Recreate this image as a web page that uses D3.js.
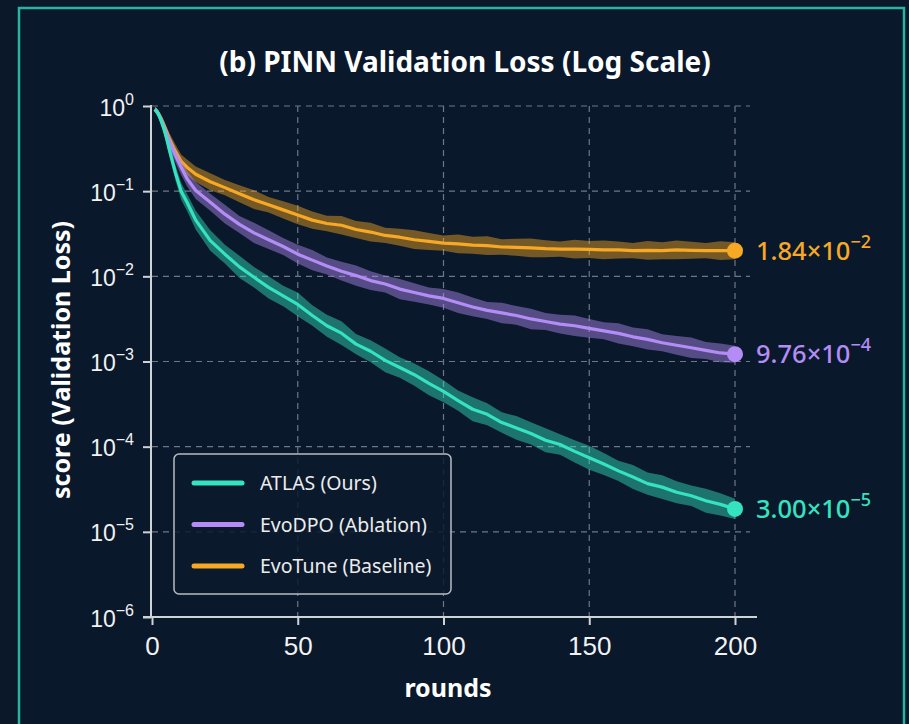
<!DOCTYPE html>
<html>
<head>
<meta charset="utf-8">
<script src="https://cdn.jsdelivr.net/npm/d3@7"></script>
<style>
  html, body { margin: 0; padding: 0; background: #0a1829; }
  svg { display: block; font-family: "Noto Sans", "Open Sans", sans-serif; }
</style>
</head>
<body>
<svg id="chart" width="909" height="724"></svg>
<script>
var rounds = [1, 2, 3, 4, 5, 6, 8, 10, 12, 15,
  20, 25, 30, 35, 40, 45, 50, 55, 60, 65, 70, 75, 80, 85, 90, 95, 100,
  105, 110, 115, 120, 125, 130, 135, 140, 145, 150, 155, 160, 165, 170,
  175, 180, 185, 190, 195, 200];

var atlasLoss = [0.912, 0.832, 0.692, 0.550, 0.417, 0.302, 0.166, 0.100, 0.0741, 0.0457,
  0.0263, 0.0182, 0.0129, 0.00977, 0.00741, 0.00589, 0.00468, 0.00347, 0.00263, 0.00215,
  0.00160, 0.00132, 0.00103, 0.000851, 0.000700, 0.000555, 0.000447,
  0.000347, 0.000275, 0.000240, 0.000192, 0.000166, 0.000143, 0.000119, 0.000106, 0.0000880,
  0.0000741, 0.0000625, 0.0000520, 0.0000440, 0.0000368, 0.0000335, 0.0000292, 0.0000265,
  0.0000232, 0.0000210, 0.0000186];

var evodpoLoss = [0.912, 0.832, 0.708, 0.575, 0.468, 0.380, 0.263, 0.191, 0.141, 0.102,
  0.0741, 0.0537, 0.0407, 0.0324, 0.0269, 0.0224, 0.0182, 0.0155, 0.0132, 0.0115,
  0.0102, 0.00891, 0.00813, 0.00708, 0.00646, 0.00589, 0.00550,
  0.00490, 0.00437, 0.00398, 0.00372, 0.00347, 0.00316, 0.00295, 0.00275, 0.00263,
  0.00245, 0.00229, 0.00214, 0.00195, 0.00182, 0.00166, 0.00155, 0.00145,
  0.00135, 0.00126, 0.00122];

var evotuneLoss = [0.912, 0.832, 0.724, 0.603, 0.501, 0.407, 0.295, 0.224, 0.191, 0.158,
  0.129, 0.110, 0.0933, 0.0794, 0.0692, 0.0603, 0.0525, 0.0457, 0.0417, 0.0398,
  0.0355, 0.0331, 0.0302, 0.0288, 0.0269, 0.0257, 0.0245,
  0.0240, 0.0232, 0.0229, 0.0221, 0.0219, 0.0216, 0.0211, 0.0209, 0.0209,
  0.0207, 0.0204, 0.0204, 0.0200, 0.0202, 0.0200, 0.0204, 0.0202,
  0.0200, 0.0200, 0.0200];

// half-width of the shaded band, in decades
var atlasSpread = [0.03, 0.04, 0.05, 0.06, 0.07, 0.08, 0.09, 0.10, 0.10, 0.11,
  0.12, 0.11, 0.13, 0.12, 0.13, 0.12, 0.14, 0.12, 0.13, 0.14, 0.12, 0.13, 0.14,
  0.12, 0.13, 0.14, 0.13, 0.12, 0.14, 0.13, 0.12, 0.14, 0.13, 0.14, 0.12, 0.13,
  0.14, 0.13, 0.12, 0.14, 0.13, 0.14, 0.13, 0.12, 0.14, 0.13, 0.12];
var evodpoSpread = [0.03, 0.04, 0.05, 0.06, 0.07, 0.08, 0.08, 0.09, 0.09, 0.10,
  0.10, 0.11, 0.10, 0.12, 0.11, 0.10, 0.11, 0.12, 0.10, 0.11, 0.12, 0.11, 0.10,
  0.12, 0.11, 0.10, 0.11, 0.12, 0.11, 0.10, 0.12, 0.11, 0.12, 0.10, 0.11, 0.12,
  0.11, 0.10, 0.12, 0.11, 0.12, 0.10, 0.11, 0.12, 0.10, 0.11, 0.10];
var evotuneSpread = [0.03, 0.04, 0.05, 0.06, 0.06, 0.07, 0.08, 0.08, 0.09, 0.09,
  0.10, 0.09, 0.10, 0.11, 0.09, 0.10, 0.11, 0.10, 0.09, 0.11, 0.10, 0.11, 0.09,
  0.10, 0.11, 0.10, 0.09, 0.11, 0.10, 0.11, 0.09, 0.10, 0.11, 0.10, 0.09, 0.11,
  0.10, 0.11, 0.10, 0.09, 0.11, 0.10, 0.11, 0.10, 0.09, 0.11, 0.10];

var seriesNames = ["ATLAS (Ours)", "EvoDPO (Ablation)", "EvoTune (Baseline)"];
var seriesColors = ["#35e3c0", "#b48cf5", "#f7a824"];
var endMantissa = ["3.00", "9.76", "1.84"];
var endExponent = ["\u22125", "\u22124", "\u22122"];

var yTicks = [1, 1e-1, 1e-2, 1e-3, 1e-4, 1e-5, 1e-6];
var yTickExp = ["0", "\u22121", "\u22122", "\u22123", "\u22124", "\u22125", "\u22126"];
var xTicks = [0, 50, 100, 150, 200];

var series = [
  { name: seriesNames[0], color: seriesColors[0], loss: atlasLoss, spread: atlasSpread },
  { name: seriesNames[1], color: seriesColors[1], loss: evodpoLoss, spread: evodpoSpread },
  { name: seriesNames[2], color: seriesColors[2], loss: evotuneLoss, spread: evotuneSpread }
];

var svg = d3.select("#chart");

// outer frame
svg.append("rect")
  .attr("x", 19).attr("y", 8)
  .attr("width", 885).attr("height", 740)
  .attr("fill", "#0a182b")
  .attr("stroke", "#2bb3a2")
  .attr("stroke-width", 2.5);

var x = d3.scaleLinear().domain([0, 200]).range([152, 735]);
var y = d3.scaleLog().domain([1e-6, 1]).range([617, 106]);

// grid
var grid = svg.append("g")
  .attr("stroke", "#6e7787")
  .attr("stroke-width", 1.2)
  .attr("stroke-dasharray", "6,5");

grid.selectAll(".hgrid")
  .data(yTicks.slice(0, 6))
  .enter()
  .append("line")
  .attr("x1", 152).attr("x2", 750)
  .attr("y1", function(d) { return y(d); })
  .attr("y2", function(d) { return y(d); });

grid.selectAll(".vgrid")
  .data(xTicks.slice(1))
  .enter()
  .append("line")
  .attr("x1", function(d) { return x(d); })
  .attr("x2", function(d) { return x(d); })
  .attr("y1", 106).attr("y2", 617);

// bands and lines
var band = d3.area()
  .x(function(d, i) { return x(rounds[i]); })
  .y0(function(d) { return y(d.v / Math.pow(10, d.s)); })
  .y1(function(d) { return y(d.v * Math.pow(10, d.s)); });

var line = d3.line()
  .x(function(d, i) { return x(rounds[i]); })
  .y(function(d) { return y(d); });

// draw back to front: orange, purple, teal
series.slice().reverse().forEach(function(s) {
  var pts = s.loss.map(function(v, i) { return { v: v, s: s.spread[i] }; });
  svg.append("path")
    .datum(pts)
    .attr("d", band)
    .attr("fill", s.color)
    .attr("fill-opacity", 0.45);
  svg.append("path")
    .datum(s.loss)
    .attr("d", line)
    .attr("fill", "none")
    .attr("stroke", s.color)
    .attr("stroke-width", 3.2)
    .attr("stroke-linejoin", "round");
});

// axes
var axisColor = "#cfd3d8";
var leftAxis = d3.axisLeft(y).tickValues(yTicks).tickSize(8).tickFormat("");
var bottomAxis = d3.axisBottom(x).tickValues(xTicks).tickSize(8).tickFormat("");

var gy = svg.append("g").attr("transform", "translate(151,0)").call(leftAxis);
var gx = svg.append("g").attr("transform", "translate(0,617)").call(bottomAxis);
gy.select(".domain").remove();
gx.select(".domain").remove();
gy.selectAll(".tick line").attr("stroke", axisColor).attr("stroke-width", 2);
gx.selectAll(".tick line").attr("stroke", axisColor).attr("stroke-width", 2);

svg.append("line")
  .attr("x1", 151).attr("x2", 151).attr("y1", 105).attr("y2", 618)
  .attr("stroke", axisColor).attr("stroke-width", 2);
svg.append("line")
  .attr("x1", 143).attr("x2", 757).attr("y1", 617).attr("y2", 617)
  .attr("stroke", axisColor).attr("stroke-width", 2);

gy.selectAll(".tick").each(function(d, i) {
  var t = d3.select(this).append("text")
    .attr("x", -17).attr("y", 9)
    .attr("text-anchor", "end")
    .attr("fill", "#f2f2f2")
    .attr("font-size", 23);
  t.append("tspan").text("10");
  t.append("tspan").attr("dy", -11).attr("font-size", 16).text(yTickExp[i]);
});

gx.selectAll(".tick").append("text")
  .attr("y", 38)
  .attr("text-anchor", "middle")
  .attr("fill", "#f2f2f2")
  .attr("font-size", 26)
  .text(function(d) { return d; });

// titles
svg.append("text")
  .attr("x", 465).attr("y", 72)
  .attr("text-anchor", "middle")
  .attr("fill", "#ffffff")
  .attr("font-size", 28)
  .attr("font-weight", "bold")
  .text("(b) PINN Validation Loss (Log Scale)");

svg.append("text")
  .attr("transform", "translate(70,360) rotate(-90)")
  .attr("text-anchor", "middle")
  .attr("fill", "#ffffff")
  .attr("font-size", 25)
  .attr("font-weight", "bold")
  .text("score (Validation Loss)");

svg.append("text")
  .attr("x", 448).attr("y", 697)
  .attr("text-anchor", "middle")
  .attr("fill", "#ffffff")
  .attr("font-size", 25)
  .attr("font-weight", "bold")
  .text("rounds");

// end markers and labels
series.forEach(function(s, i) {
  var last = s.loss.length - 1;
  var cx = x(rounds[last]);
  var cy = y(s.loss[last]);
  svg.append("circle")
    .attr("cx", cx).attr("cy", cy).attr("r", 8)
    .attr("fill", s.color);
  var t = svg.append("text")
    .attr("x", cx + 21).attr("y", cy + 9)
    .attr("fill", s.color)
    .attr("font-size", 25.5)
    .attr("font-weight", 500);
  t.append("tspan").text(endMantissa[i] + "\u00d710");
  t.append("tspan").attr("dy", -12).attr("font-size", 18).text(endExponent[i]);
});

// legend
var legend = svg.append("g").attr("transform", "translate(174,454)");
legend.append("rect")
  .attr("width", 277).attr("height", 140)
  .attr("rx", 5)
  .attr("fill", "#0b1a2d")
  .attr("fill-opacity", 0.85)
  .attr("stroke", "#b8bcc2")
  .attr("stroke-width", 1.5);

var items = legend.selectAll(".item")
  .data(series)
  .enter()
  .append("g")
  .attr("transform", function(d, i) { return "translate(0," + (29 + i * 41.5) + ")"; });

items.append("line")
  .attr("x1", 20).attr("x2", 68)
  .attr("stroke", function(d) { return d.color; })
  .attr("stroke-width", 5)
  .attr("stroke-linecap", "round");

items.append("text")
  .attr("x", 86).attr("y", 7)
  .attr("fill", "#ececec")
  .attr("font-size", 19.5)
  .text(function(d) { return d.name; });
</script>
</body>
</html>
